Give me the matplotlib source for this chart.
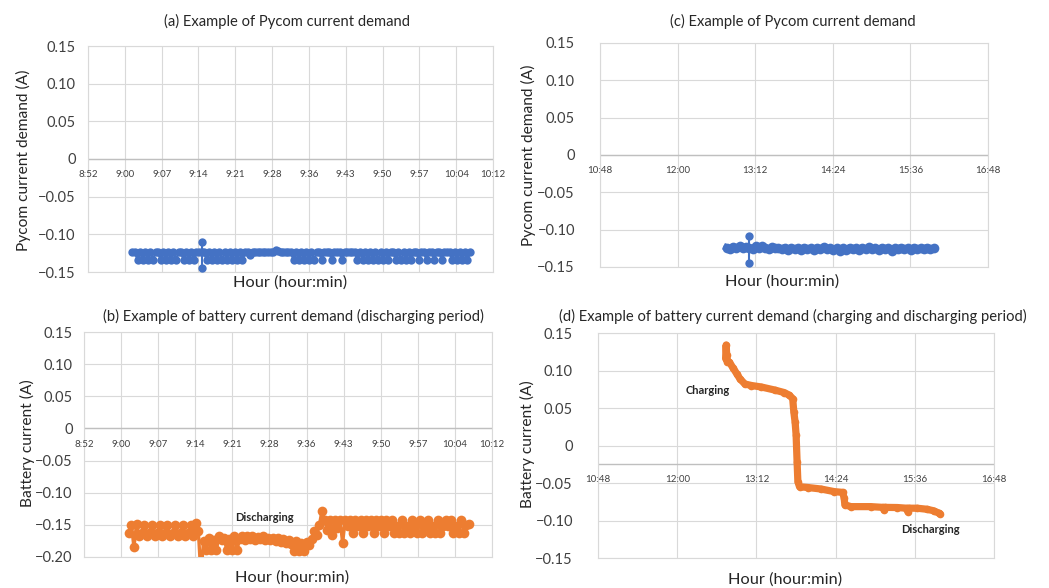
import math
import numpy as np
import matplotlib
matplotlib.use("Agg")
import matplotlib.pyplot as plt

plt.rcParams['font.family'] = ['Lato', 'DejaVu Sans']

BLUE = '#4472C4'
ORANGE = '#ED7D31'
GRID = '#d9d9d9'
AXIS = '#bfbfbf'
TEXT = '#262626'
TICK = '#404040'

# ---------------- data ----------------
# (a) Pycom current demand, logged every 30 s (minutes after 9:00)
pycom_a_start_min = 1.5
pycom_a_step_min = 0.5
pycom_a_amps = [
    -0.124, -0.124, -0.134, -0.124, -0.134, -0.124, -0.134, -0.124, -0.134, -0.124,
    -0.124, -0.134, -0.124, -0.134, -0.124, -0.134, -0.124, -0.134, -0.124, -0.124,
    -0.134, -0.124, -0.134, -0.124, -0.134, -0.124, -0.124, -0.124, -0.124, -0.134,
    -0.124, -0.134, -0.124, -0.134, -0.124, -0.134, -0.124, -0.134, -0.124, -0.134,
    -0.124, -0.134, -0.124, -0.134, -0.124, -0.124, -0.128, -0.124, -0.124, -0.124,
    -0.124, -0.124, -0.124, -0.124, -0.124, -0.124, -0.121, -0.122, -0.124, -0.124,
    -0.124, -0.124, -0.124, -0.134, -0.124, -0.134, -0.124, -0.134, -0.124, -0.134,
    -0.124, -0.134, -0.124, -0.124, -0.134, -0.124, -0.124, -0.124, -0.134, -0.124,
    -0.124, -0.124, -0.134, -0.124, -0.124, -0.124, -0.124, -0.124, -0.134, -0.124,
    -0.134, -0.124, -0.134, -0.124, -0.134, -0.124, -0.134, -0.124, -0.134, -0.124,
    -0.134, -0.124, -0.124, -0.134, -0.124, -0.134, -0.124, -0.134, -0.124, -0.134,
    -0.124, -0.124, -0.134, -0.124, -0.124, -0.134, -0.124, -0.124, -0.134, -0.124,
    -0.124, -0.134, -0.124, -0.124, -0.124, -0.134, -0.124, -0.134, -0.124, -0.134,
    -0.124, -0.134, -0.124,
]
pycom_a_spike_min = 15.0
pycom_a_spike_amps = [-0.110, -0.145]

# (b) battery current while discharging, logged every 30 s (minutes after 9:00)
battery_b_start_min = 1.5
battery_b_step_min = 0.5
battery_b_amps = [
    -0.163, -0.150, -0.185, -0.148, -0.168, -0.162, -0.150, -0.168, -0.162, -0.150,
    -0.168, -0.163, -0.150, -0.168, -0.162, -0.150, -0.168, -0.163, -0.150, -0.168,
    -0.162, -0.150, -0.168, -0.163, -0.150, -0.168, -0.147, -0.160, -0.230, -0.175,
    -0.189, -0.170, -0.189, -0.173, -0.189, -0.168, -0.173, -0.170, -0.189, -0.172,
    -0.189, -0.168, -0.189, -0.172, -0.168, -0.173, -0.168, -0.172, -0.168, -0.173,
    -0.169, -0.172, -0.168, -0.173, -0.170, -0.174, -0.170, -0.175, -0.171, -0.176,
    -0.172, -0.178, -0.174, -0.180, -0.190, -0.175, -0.191, -0.178, -0.190, -0.176,
    -0.182, -0.172, -0.160, -0.165, -0.150, -0.128, -0.142, -0.158, -0.142, -0.165,
    -0.142, -0.155, -0.142, -0.178, -0.142, -0.152, -0.142, -0.162, -0.142, -0.152,
    -0.142, -0.162, -0.142, -0.152, -0.142, -0.162, -0.142, -0.152, -0.142, -0.162,
    -0.142, -0.152, -0.142, -0.162, -0.152, -0.162, -0.142, -0.162, -0.152, -0.162,
    -0.142, -0.152, -0.162, -0.142, -0.162, -0.152, -0.142, -0.162, -0.152, -0.162,
    -0.142, -0.162, -0.152, -0.142, -0.152, -0.142, -0.162, -0.152, -0.162, -0.142,
    -0.162, -0.150, -0.148,
]

# (c) Pycom current demand, logged every 3 min (minutes after midnight)
pycom_c_start_min = 765.5
pycom_c_step_min = 3.0
pycom_c_amps = [
    -0.124, -0.126, -0.123, -0.125, -0.122, -0.125, -0.123, -0.124, -0.126, -0.122,
    -0.125, -0.122, -0.124, -0.126, -0.123, -0.125, -0.124, -0.126, -0.124, -0.127,
    -0.124, -0.126, -0.125, -0.127, -0.124, -0.126, -0.125, -0.127, -0.124, -0.126,
    -0.123, -0.126, -0.125, -0.127, -0.125, -0.128, -0.125, -0.127, -0.124, -0.126,
    -0.125, -0.127, -0.124, -0.126, -0.123, -0.126, -0.125, -0.127, -0.124, -0.126,
    -0.125, -0.128, -0.125, -0.126, -0.124, -0.126, -0.125, -0.127, -0.124, -0.126,
    -0.125, -0.126, -0.124, -0.126, -0.125,
]
pycom_c_spike_min = 786.5
pycom_c_spike_amps = [-0.108, -0.145]

# (d) battery current through charging and discharging (minutes after midnight)
battery_d_min = [
    764.0, 764.5, 765.0, 765.5, 767.5, 770.5, 774.0, 777.0, 781.5, 787.5,
    796.5, 808.5, 817.5, 822.0, 825.0, 826.0, 827.2, 828.1, 829.0, 829.7,
    831.2, 838.7, 850.7, 862.8, 870.3, 871.8, 872.4, 877.8, 895.9, 907.0,
    908.0, 909.0, 920.0, 928.5, 929.5, 930.5, 938.0, 947.0, 953.0, 957.7,
    959.0,
]
battery_d_amps = [
    0.116, 0.134, 0.121, 0.112, 0.111, 0.104, 0.096, 0.089, 0.082, 0.080,
    0.078, 0.074, 0.0705, 0.067, 0.0625, 0.045, 0.031, 0.014, -0.022, -0.048,
    -0.055, -0.056, -0.058, -0.0615, -0.0625, -0.070, -0.079, -0.0815, -0.0815, -0.0825,
    -0.086, -0.0825, -0.0827, -0.0836, -0.088, -0.0836, -0.0836, -0.085, -0.087, -0.090,
    -0.091,
]

# axis settings (time in fractions of a day)
morning_ticks = np.round(np.arange(0.370, 0.4251, 0.005), 4)
day_ticks = np.round(np.arange(0.45, 0.7001, 0.05), 4)


def to_day(minutes):
    return np.asarray(minutes, dtype=float) / 1440.0


def hhmm(day):
    m = int(math.floor(day * 1440 + 1e-6))
    return f"{m // 60}:{m % 60:02d}"


def ylab(v):
    if abs(v) < 1e-9:
        return "0"
    return f"{v:.2f}".replace("-", "\u2212")


W, H = 1049, 588
fig = plt.figure(figsize=(W / 100, H / 100), dpi=100)


def make_axes(left, top, right, bottom):
    return fig.add_axes([left / W, 1 - bottom / H, (right - left) / W, (bottom - top) / H])


def style(ax, xticks, ylim, yticks, cross, ypad):
    ax.set_xlim(xticks[0], xticks[-1])
    ax.set_ylim(*ylim)
    ax.set_xticks(xticks)
    ax.set_yticks(yticks)
    ax.set_yticklabels([ylab(v) for v in yticks])
    ax.tick_params(axis='x', length=0, labelbottom=False)
    ax.tick_params(axis='y', length=0, pad=ypad, labelsize=10.5, labelcolor=TICK)
    ax.grid(True, color=GRID, linewidth=0.8)
    ax.set_axisbelow(True)
    for s in ax.spines.values():
        s.set_color(GRID)
        s.set_linewidth(0.8)
    ax.axhline(cross, color=AXIS, linewidth=1.0, zorder=1.5)
    for t in xticks:
        ax.annotate(hhmm(t), (t, cross), xytext=(0, -8), textcoords='offset points',
                    ha='center', va='top', fontsize=7, color=TICK, annotation_clip=False)


def series(ax, x, y, color, ms=5.3, lw=1.5):
    ax.plot(x, y, color=color, linewidth=lw, marker='o', markersize=ms,
            markeredgewidth=0, zorder=3)


# (a)
ax_a = make_axes(88, 46, 493, 272)
style(ax_a, morning_ticks, (-0.15, 0.15), [0.15, 0.10, 0.05, 0, -0.05, -0.10, -0.15], 0, 9)
t_a = pycom_a_start_min + pycom_a_step_min * np.arange(len(pycom_a_amps))
series(ax_a, to_day(540 + t_a), pycom_a_amps, BLUE, ms=6.0, lw=1.8)
series(ax_a, to_day([540 + pycom_a_spike_min] * 2), pycom_a_spike_amps, BLUE, ms=6.0)

# (c)
ax_c = make_axes(600, 43, 988, 267)
style(ax_c, day_ticks, (-0.15, 0.15), [0.15, 0.10, 0.05, 0, -0.05, -0.10, -0.15], 0, 18)
t_c = pycom_c_start_min + pycom_c_step_min * np.arange(len(pycom_c_amps))
series(ax_c, to_day(t_c), pycom_c_amps, BLUE, ms=7.0, lw=5)
series(ax_c, to_day([pycom_c_spike_min] * 2), pycom_c_spike_amps, BLUE, ms=6.0)

# (b)
ax_b = make_axes(84, 332, 492, 557)
style(ax_b, morning_ticks, (-0.20, 0.15),
      [0.15, 0.10, 0.05, 0, -0.05, -0.10, -0.15, -0.20], 0, 8)
t_b = battery_b_start_min + battery_b_step_min * np.arange(len(battery_b_amps))
series(ax_b, to_day(540 + t_b), battery_b_amps, ORANGE, ms=7.0, lw=2.4)
ax_b.text(to_day(540 + 27.9), -0.1387, "Discharging", fontsize=8, fontweight='bold',
          color=TEXT, ha='center', va='center')

# (d)
ax_d = make_axes(598, 333, 994, 558)
style(ax_d, day_ticks, (-0.15, 0.15), [0.15, 0.10, 0.05, 0, -0.05, -0.10, -0.15], -0.025, 18)
ax_d.plot(to_day(battery_d_min), battery_d_amps, color=ORANGE, linewidth=5.2,
          solid_capstyle='round', solid_joinstyle='round', marker='o', markersize=5.5,
          markeredgewidth=0, zorder=3)
ax_d.text(to_day(747.7), 0.0738, "Charging", fontsize=8, fontweight='bold',
          color=TEXT, ha='center', va='center')
ax_d.text(to_day(950.5), -0.1124, "Discharging", fontsize=8, fontweight='bold',
          color=TEXT, ha='center', va='center')

# titles and axis labels
titles = [
    (287, 21.5, "(a) Example of Pycom current demand"),
    (793, 21.5, "(c) Example of Pycom current demand"),
    (293, 316, "(b) Example of battery current demand (discharging period)"),
    (793, 316, "(d) Example of battery current demand (charging and discharging period)"),
]
for x, y, s in titles:
    fig.text(x / W, 1 - y / H, s, ha='center', va='center', fontsize=10.6, color=TEXT)

xlabels = [(290, 283), (782, 282), (292, 578), (785, 580)]
for x, y in xlabels:
    fig.text(x / W, 1 - y / H, "Hour (hour:min)", ha='center', va='center',
             fontsize=11.8, color=TEXT)

ylabels = [
    (23, 160, "Pycom current demand (A)"),
    (528, 155, "Pycom current demand (A)"),
    (27, 443, "Battery current (A)"),
    (527, 444, "Battery current (A)"),
]
for x, y, s in ylabels:
    fig.text(x / W, 1 - y / H, s, ha='center', va='center', rotation=90,
             fontsize=11.2, color=TEXT)

fig.savefig("out.png", dpi=100, facecolor='white')
